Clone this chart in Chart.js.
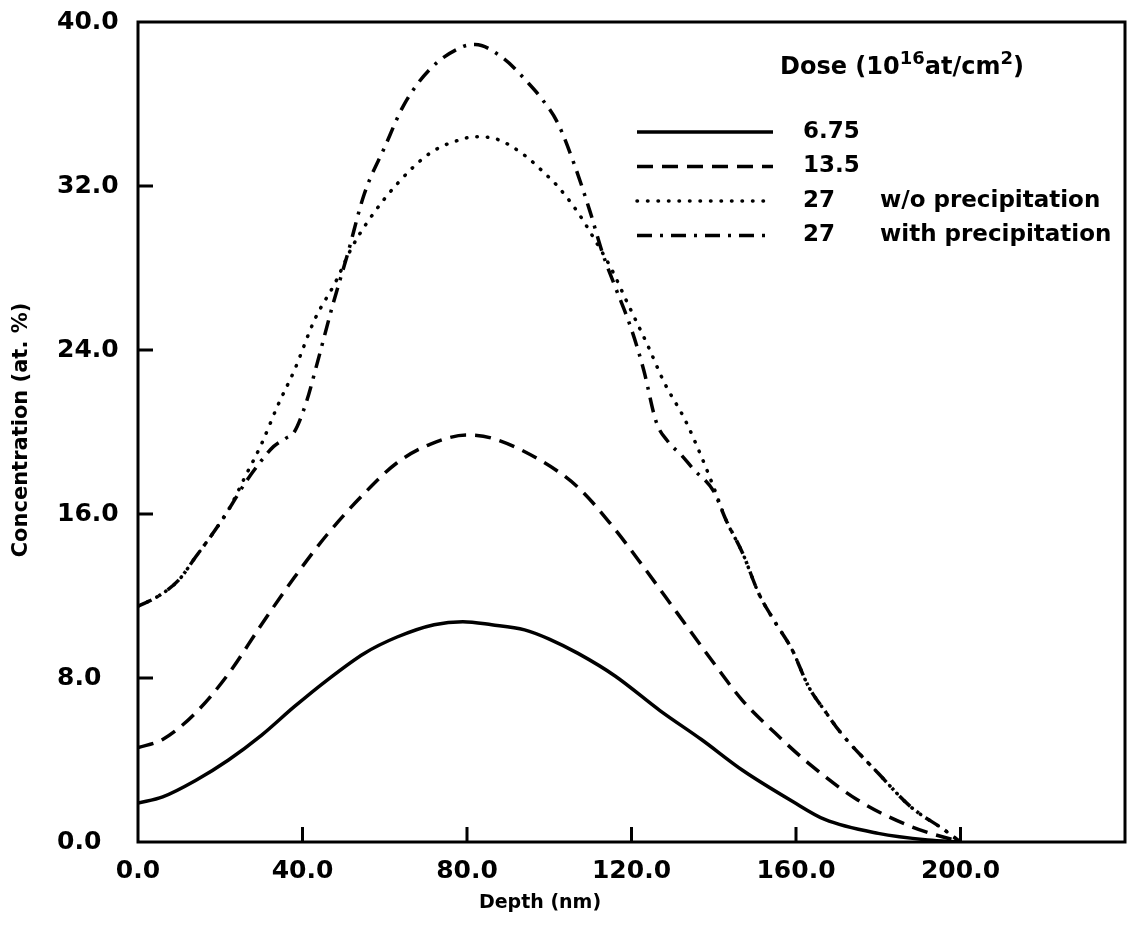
<!DOCTYPE html>
<html>
<head>
<meta charset="utf-8">
<script src="https://cdn.jsdelivr.net/npm/chart.js@4.4.1/dist/chart.umd.min.js"></script>
<style>
  html, body { margin: 0; padding: 0; background: #fff; }
  #wrap { width: 1130px; height: 942px; }
</style>
</head>
<body>
<div id="wrap"><canvas id="chart" width="1130" height="942"></canvas></div>
<script>
// Depth (nm) / concentration (at. %)
const depth675 = [0, 6, 14, 22, 30, 38, 46, 55, 63, 72, 79, 86, 94, 100, 107, 116, 127, 137, 147, 159, 167, 180, 192, 200];
const conc675 = [1.9, 2.2, 3.0, 4.0, 5.2, 6.6, 7.9, 9.2, 10.0, 10.6, 10.75, 10.6, 10.35, 9.9, 9.2, 8.1, 6.4, 5.0, 3.5, 2.0, 1.1, 0.42, 0.1, 0];

const depth135 = [0, 6, 14, 22, 30, 38, 46, 55, 63, 71, 80, 86, 98, 107, 115, 123, 131, 139, 147, 155, 163, 175, 188, 200];
const conc135 = [4.6, 5.0, 6.3, 8.2, 10.6, 12.9, 15.0, 17.0, 18.5, 19.4, 19.85, 19.7, 18.6, 17.3, 15.5, 13.4, 11.2, 9.0, 6.9, 5.3, 3.85, 2.05, 0.75, 0];

const depth27wo = [0, 5, 10, 14, 18, 22, 26, 30, 34, 38, 43, 48, 52, 56, 63, 71, 79, 82, 87, 94, 99, 102, 107, 111, 115, 119, 124, 128, 133, 137, 140, 143, 147, 151, 155, 159, 163, 167, 171, 180, 188, 196, 200];
const conc27wo = [11.5, 12.0, 12.8, 13.9, 15.0, 16.2, 17.8, 19.4, 21.3, 23.0, 25.5, 27.3, 29.0, 30.3, 32.1, 33.6, 34.3, 34.4, 34.3, 33.5, 32.6, 32.0, 30.7, 29.4, 28.0, 26.3, 24.2, 22.4, 20.6, 18.8, 17.3, 15.7, 14.1, 12.1, 10.7, 9.4, 7.6, 6.4, 5.3, 3.35, 1.7, 0.6, 0];

const depth27w = [0, 5, 10, 14, 18, 22, 26, 30, 33, 36, 38, 41, 43.5, 47.5, 51, 55, 60, 64.5, 71, 79, 82, 89, 95, 98, 102, 106, 110, 113, 116, 120, 123, 126, 129, 132, 135, 140, 143, 147, 151, 155, 159, 163, 167, 171, 180, 188, 196, 200];
const conc27w = [11.5, 12.0, 12.8, 13.9, 15.0, 16.2, 17.5, 18.6, 19.3, 19.7, 20.0, 21.5, 23.3, 26.3, 28.7, 31.6, 33.9, 35.9, 37.7, 38.8, 38.9, 38.2, 37.0, 36.3, 35.1, 33.1, 30.7, 28.7, 27.1, 25.0, 23.0, 20.5, 19.5, 18.9, 18.2, 17.1, 15.7, 14.1, 12.1, 10.7, 9.4, 7.6, 6.4, 5.3, 3.35, 1.7, 0.6, 0];

const doseLabels = ['6.75', '13.5', '27', '27'];
const doseNotes = ['', '', 'w/o precipitation', 'with precipitation'];
const xTicks = [40, 80, 120, 160, 200];
const yTicks = [8, 16, 24, 32];

function pts(xs, ys) {
  return xs.map((x, i) => ({ x: x, y: ys[i] }));
}

function series(label, xs, ys, dash, cap) {
  return {
    label: label,
    data: pts(xs, ys),
    borderColor: '#000',
    borderWidth: 3.5,
    borderDash: dash,
    borderCapStyle: cap || 'butt',
    pointRadius: 0,
    fill: false,
    cubicInterpolationMode: 'monotone',
  };
}

// frame, inward ticks, axis titles and the legend block
const decorations = {
  id: 'decorations',
  afterDraw(chart) {
    const { ctx, chartArea: a, scales } = chart;
    ctx.save();
    ctx.strokeStyle = '#000';
    ctx.fillStyle = '#000';
    ctx.lineWidth = 3;
    ctx.setLineDash([]);
    ctx.strokeRect(a.left, a.top, a.right - a.left, a.bottom - a.top);

    ctx.beginPath();
    xTicks.forEach((v) => {
      const px = scales.x.getPixelForValue(v);
      ctx.moveTo(px, a.bottom);
      ctx.lineTo(px, a.bottom - 15);
    });
    yTicks.forEach((v) => {
      const py = scales.y.getPixelForValue(v);
      ctx.moveTo(a.left, py);
      ctx.lineTo(a.left + 15, py);
    });
    ctx.stroke();

    // axis titles
    ctx.font = 'bold 19px "DejaVu Sans"';
    ctx.textAlign = 'center';
    ctx.textBaseline = 'middle';
    ctx.fillText('Depth (nm)', 540, 903);
    ctx.save();
    ctx.translate(22, 430);
    ctx.rotate(-Math.PI / 2);
    ctx.font = 'bold 21px "DejaVu Sans"';
    ctx.fillText('Concentration (at. %)', 0, 0);
    ctx.restore();

    // legend title with superscripts
    const big = 'bold 24px "DejaVu Sans"';
    const sup = 'bold 18px "DejaVu Sans"';
    const parts = [['Dose (10', big, 0], ['16', sup, -10], ['at/cm', big, 0], ['2', sup, -10], [')', big, 0]];
    ctx.textAlign = 'left';
    ctx.textBaseline = 'alphabetic';
    let tx = 780;
    parts.forEach(([t, f, dy]) => {
      ctx.font = f;
      ctx.fillText(t, tx, 74 + dy);
      tx += ctx.measureText(t).width;
    });

    // legend rows
    ctx.textBaseline = 'middle';
    ctx.font = 'bold 23px "DejaVu Sans"';
    chart.data.datasets.forEach((ds, i) => {
      const ly = 132 + i * 34.5;
      ctx.lineWidth = 3.5;
      ctx.lineCap = ds.borderCapStyle;
      ctx.setLineDash(ds.borderDash);
      ctx.beginPath();
      ctx.moveTo(637, ly);
      ctx.lineTo(773, ly);
      ctx.stroke();
      ctx.fillText(doseLabels[i], 803, ly);
      if (doseNotes[i]) ctx.fillText(doseNotes[i], 880, ly);
    });
    ctx.restore();
  },
};

const ctx = document.getElementById('chart').getContext('2d');
new Chart(ctx, {
  type: 'line',
  data: {
    datasets: [
      series('6.75', depth675, conc675, []),
      series('13.5', depth135, conc135, [16, 9]),
      series('27 w/o precipitation', depth27wo, conc27wo, [0.5, 10], 'round'),
      series('27 with precipitation', depth27w, conc27w, [15, 8, 3, 8]),
    ],
  },
  options: {
    responsive: false,
    animation: false,
    layout: { padding: { left: 57, top: 22, right: 5, bottom: 0 } },
    plugins: { legend: { display: false }, tooltip: { enabled: false } },
    scales: {
      x: {
        type: 'linear',
        min: 0,
        max: 240,
        afterFit: (s) => { s.height = 100; s.paddingRight = 0; s.paddingLeft = 0; },
        grid: { display: false, drawTicks: false },
        border: { display: false },
        ticks: {
          stepSize: 40,
          padding: 14,
          color: '#000',
          font: { family: 'DejaVu Sans', size: 25, weight: 'bold' },
          callback: (v) => (v === 240 ? '' : v.toFixed(1)),
        },
      },
      y: {
        min: 0,
        max: 40,
        afterFit: (s) => { s.width = 81; },
        grid: { display: false, drawTicks: false },
        border: { display: false },
        ticks: {
          stepSize: 8,
          crossAlign: 'far',
          color: '#000',
          font: { family: 'DejaVu Sans', size: 25, weight: 'bold' },
          callback: (v) => v.toFixed(1),
        },
      },
    },
  },
  plugins: [decorations],
});
</script>
</body>
</html>
